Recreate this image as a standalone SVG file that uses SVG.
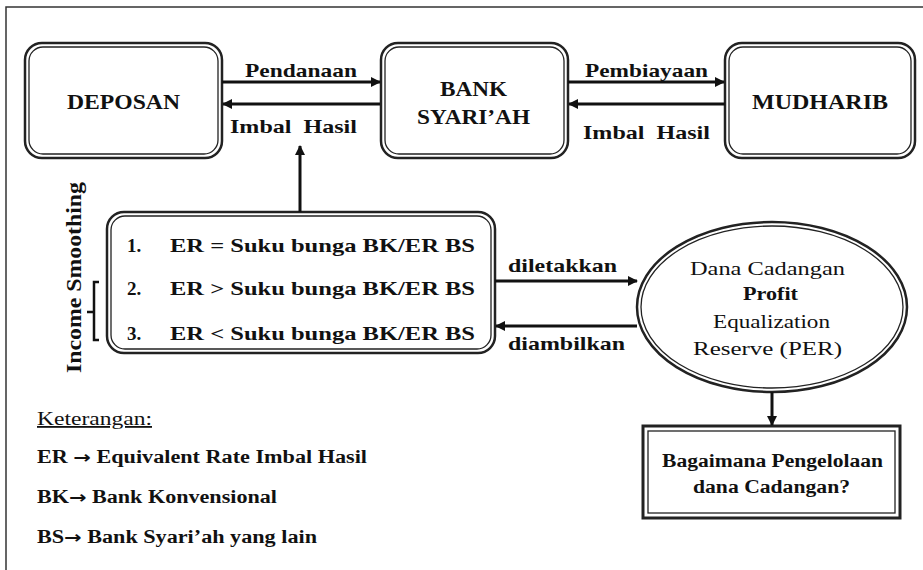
<svg xmlns="http://www.w3.org/2000/svg" width="923" height="570" viewBox="0 0 923 570">
<style>
text{font-family:"Liberation Serif","Times New Roman",serif;fill:#111}
.b{font-weight:bold}
.o{fill:#fff;stroke:#222;stroke-width:2.5}
.i{fill:none;stroke:#222;stroke-width:1.3}
.c{fill:none;stroke:#111;stroke-width:3}
.t{font-family:"Liberation Serif",serif;font-size:21px;font-weight:bold}
.l{font-family:"Liberation Serif",serif;font-size:19px}
.e{font-family:"Liberation Serif",serif;font-size:18px}
.ar{font-family:"DejaVu Sans",sans-serif;font-size:17px;font-weight:bold}
</style>
<defs>
<marker id="ah" viewBox="0 0 10 10" refX="9" refY="5" markerWidth="11" markerHeight="10" markerUnits="userSpaceOnUse" orient="auto">
<path d="M0,0 L10,5 L0,10 z" fill="#111"/>
</marker>
</defs>
<rect x="0" y="0" width="923" height="570" fill="#fff"/>
<path d="M6,580 V7 H930" fill="none" stroke="#333" stroke-width="1.5"/>

<g id="deposan">
<rect class="o" x="25" y="43" width="197" height="115" rx="17"/>
<rect class="i" x="29" y="47" width="189" height="107" rx="14"/>
<text class="t" x="67" y="109" textLength="113" lengthAdjust="spacingAndGlyphs">DEPOSAN</text>
</g>
<g id="bank">
<rect class="o" x="381" y="43" width="187" height="115" rx="17"/>
<rect class="i" x="385" y="47" width="179" height="107" rx="14"/>
<text class="t" x="440" y="96" textLength="67" lengthAdjust="spacingAndGlyphs">BANK</text>
<text class="t" x="417" y="124" textLength="113" lengthAdjust="spacingAndGlyphs">SYARI’AH</text>
</g>
<g id="mudharib">
<rect class="o" x="725" y="43" width="190" height="115" rx="17"/>
<rect class="i" x="729" y="47" width="182" height="107" rx="14"/>
<text class="t" x="752" y="109" textLength="136" lengthAdjust="spacingAndGlyphs">MUDHARIB</text>
</g>
<g id="list">
<rect class="o" x="107" y="212" width="388" height="141" rx="17"/>
<rect class="i" x="111" y="216" width="380" height="133" rx="14"/>
<text class="l b" x="127" y="252">1.</text>
<text class="l b" x="170" y="252" textLength="305" lengthAdjust="spacingAndGlyphs">ER = Suku bunga BK/ER BS</text>
<text class="l b" x="127" y="295">2.</text>
<text class="l b" x="170" y="295" textLength="305" lengthAdjust="spacingAndGlyphs">ER &gt; Suku bunga BK/ER BS</text>
<text class="l b" x="127" y="340">3.</text>
<text class="l b" x="170" y="340" textLength="305" lengthAdjust="spacingAndGlyphs">ER &lt; Suku bunga BK/ER BS</text>
</g>
<g id="smoothing">
<text class="t" font-size="21" transform="translate(81,373) rotate(-90)" textLength="191" lengthAdjust="spacingAndGlyphs">Income Smoothing</text>
<path d="M99,282 H94 V340 H99 M94,312 H87" fill="none" stroke="#111" stroke-width="2.5"/>
</g>
<g id="per">
<ellipse class="o" cx="772" cy="307" rx="135" ry="85"/>
<ellipse class="i" cx="772" cy="307" rx="131" ry="81"/>
<text class="e" x="690" y="275" textLength="155" lengthAdjust="spacingAndGlyphs">Dana Cadangan</text>
<text class="e b" x="743" y="300" textLength="55" lengthAdjust="spacingAndGlyphs">Profit</text>
<text class="e" x="713" y="328" textLength="117" lengthAdjust="spacingAndGlyphs">Equalization</text>
<text class="e" x="693" y="355" textLength="149" lengthAdjust="spacingAndGlyphs">Reserve (PER)</text>
</g>
<g id="question">
<rect x="643" y="426" width="257" height="92" fill="#fff" stroke="#222" stroke-width="3"/>
<rect x="648" y="431" width="247" height="82" fill="none" stroke="#222" stroke-width="1.3"/>
<text class="e b" x="662" y="467" textLength="221" lengthAdjust="spacingAndGlyphs">Bagaimana Pengelolaan</text>
<text class="e b" x="693" y="493" textLength="157" lengthAdjust="spacingAndGlyphs">dana Cadangan?</text>
</g>
<g id="connectors">
<line class="c" x1="222" y1="82" x2="380" y2="82" marker-end="url(#ah)"/>
<line class="c" x1="380" y1="104" x2="223" y2="104" marker-end="url(#ah)"/>
<line class="c" x1="568" y1="82" x2="724" y2="82" marker-end="url(#ah)"/>
<line class="c" x1="725" y1="104" x2="569" y2="104" marker-end="url(#ah)"/>
<line class="c" x1="300" y1="212" x2="300" y2="146" marker-end="url(#ah)"/>
<line class="c" x1="495" y1="281" x2="637" y2="281" marker-end="url(#ah)"/>
<line class="c" x1="637" y1="326" x2="496" y2="326" marker-end="url(#ah)"/>
<line class="c" x1="772" y1="392" x2="772" y2="425" marker-end="url(#ah)"/>
</g>
<g id="labels">
<text class="l b" x="245" y="77" textLength="112" lengthAdjust="spacingAndGlyphs">Pendanaan</text>
<text class="l b" x="230" y="133" textLength="127" lengthAdjust="spacingAndGlyphs" xml:space="preserve">Imbal  Hasil</text>
<text class="l b" x="585" y="77" textLength="123" lengthAdjust="spacingAndGlyphs">Pembiayaan</text>
<text class="l b" x="583" y="139" textLength="127" lengthAdjust="spacingAndGlyphs" xml:space="preserve">Imbal  Hasil</text>
<text class="l b" x="508" y="272" textLength="109" lengthAdjust="spacingAndGlyphs">diletakkan</text>
<text class="l b" x="508" y="350" textLength="117" lengthAdjust="spacingAndGlyphs">diambilkan</text>
</g>
<g id="legend">
<text class="e" x="37" y="425" textLength="115" lengthAdjust="spacingAndGlyphs" text-decoration="underline">Keterangan:</text>
<text class="e b" x="37" y="463" textLength="330" lengthAdjust="spacingAndGlyphs">ER <tspan class="ar">→</tspan> Equivalent Rate Imbal Hasil</text>
<text class="e b" x="37" y="503" textLength="240" lengthAdjust="spacingAndGlyphs">BK<tspan class="ar">→</tspan> Bank Konvensional</text>
<text class="e b" x="37" y="543" textLength="280" lengthAdjust="spacingAndGlyphs">BS<tspan class="ar">→</tspan> Bank Syari’ah yang lain</text>
</g>
</svg>
